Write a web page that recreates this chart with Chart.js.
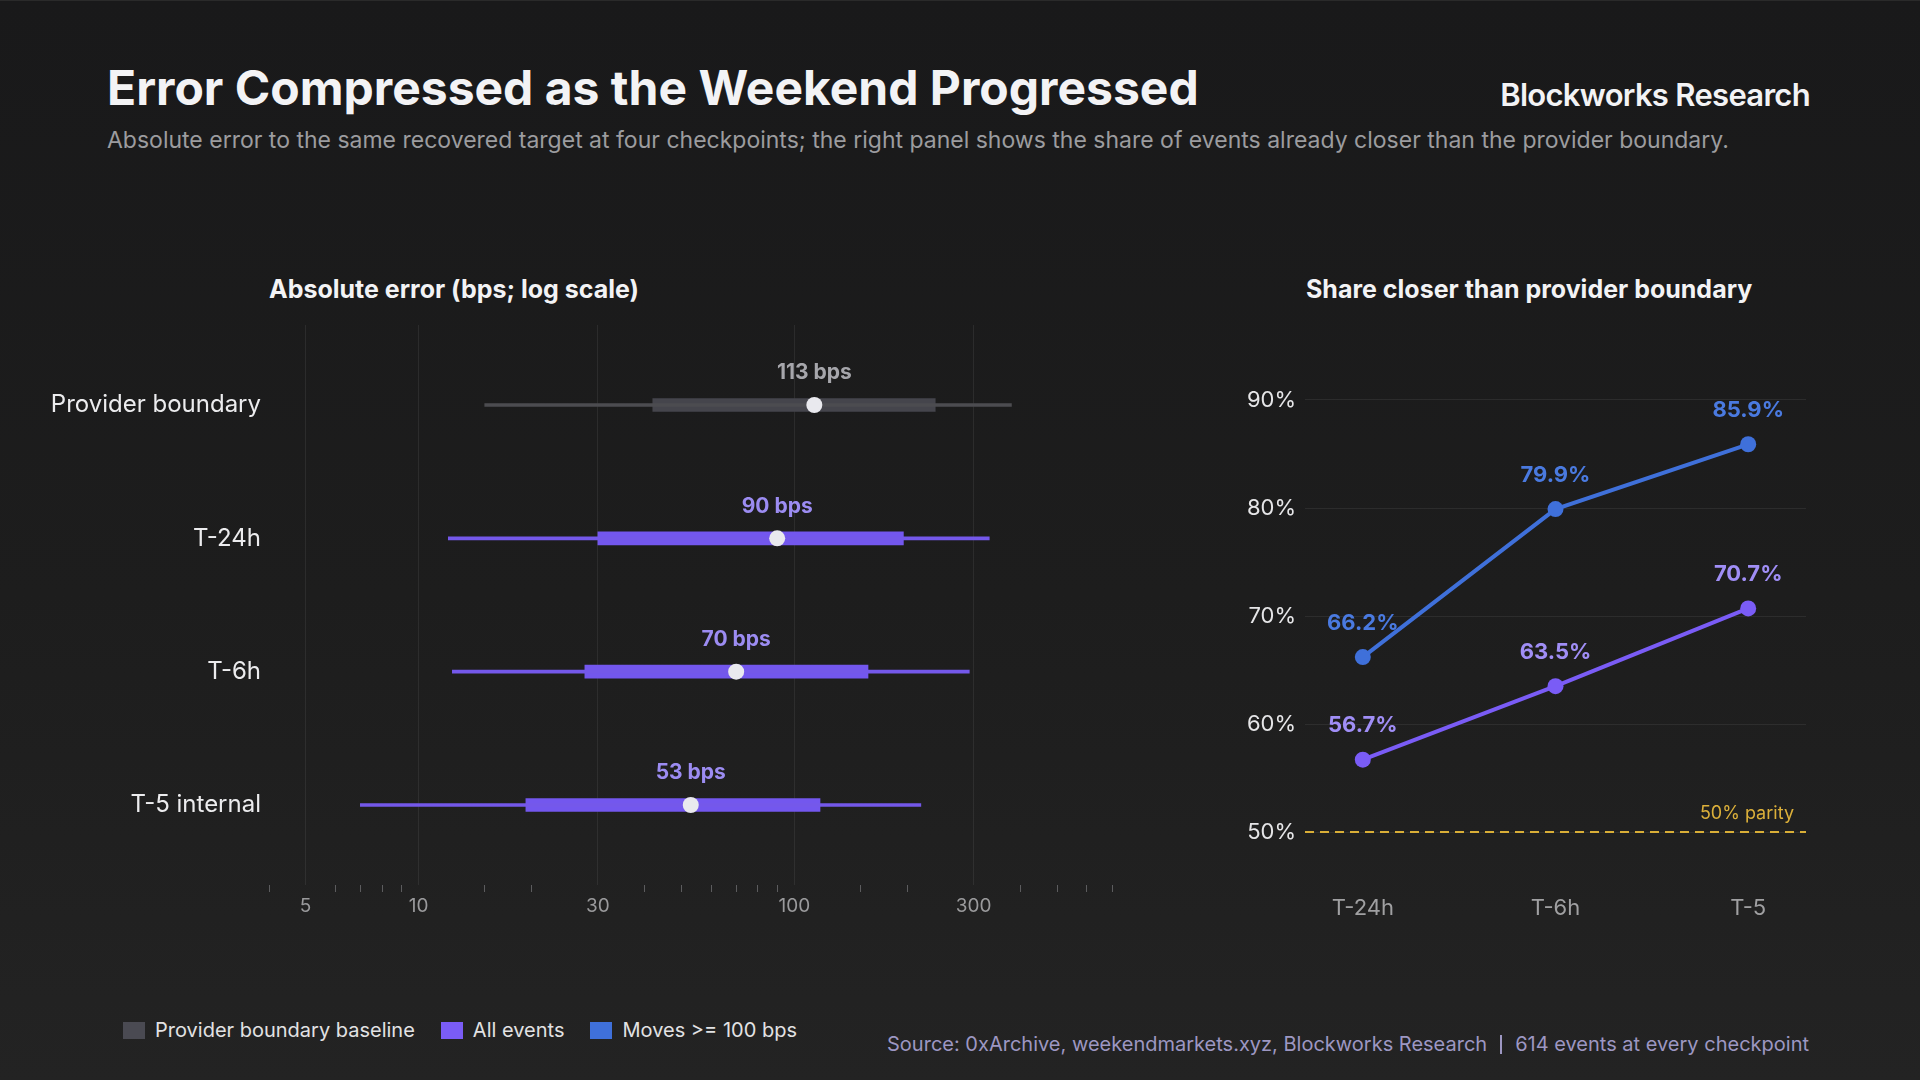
<!DOCTYPE html>
<html>
<head>
<meta charset="utf-8">
<script src="https://cdn.jsdelivr.net/npm/chart.js@4.4.1/dist/chart.umd.min.js"></script>
<style>
  html, body { margin: 0; padding: 0; }
  body {
    width: 1920px; height: 1080px; overflow: hidden; position: relative;
    background: linear-gradient(180deg, #19191a 0%, #1d1d1d 55%, #232323 100%);
    font-family: Inter, "Noto Sans", sans-serif;
    border-top: 1px solid #2a2a2a; box-sizing: border-box;
  }
  .abs { position: absolute; white-space: nowrap; }
  #title { left: 107px; top: 58px; font-size: 48px; line-height: 58px; font-weight: 700; color: #f3f3f5; }
  #brand { right: 110px; top: 76px; font-size: 31px; line-height: 36px; font-weight: 600; color: #f3f3f5; letter-spacing: -0.7px; }
  #subtitle { left: 107px; top: 126px; font-size: 23px; line-height: 27px; color: #9c9c9f; }
  .panelTitle { top: 273px; font-size: 25px; line-height: 30px; font-weight: 700; color: #f3f3f5; }
  #leftTitle { left: 269px; }
  #rightTitle { left: 1306px; }
  #leftBox { left: 0; top: 300px; width: 1130px; height: 660px; }
  #rightBox { left: 1240px; top: 300px; width: 640px; height: 660px; }
  #legend { left: 123px; top: 1017px; height: 24px; display: flex; align-items: center; font-size: 20px; line-height: 24px; color: #e2e2e4; }
  .sw { width: 22px; height: 17px; margin-right: 10px; }
  .item { display: flex; align-items: center; margin-right: 26px; }
  #source { right: 111px; top: 1031px; font-size: 20px; line-height: 24px; color: #9d97c2; display: flex; align-items: center; }
  .sep { display: inline-block; width: 2px; height: 19px; background: #9d97c2; margin: 0 13px; }
</style>
</head>
<body>
<div id="title" class="abs">Error Compressed as the Weekend Progressed</div>
<div id="brand" class="abs">Blockworks Research</div>
<div id="subtitle" class="abs">Absolute error to the same recovered target at four checkpoints; the right panel shows the share of events already closer than the provider boundary.</div>

<div id="leftTitle" class="abs panelTitle">Absolute error (bps; log scale)</div>
<div id="rightTitle" class="abs panelTitle">Share closer than provider boundary</div>

<div id="leftBox" class="abs"><canvas id="errorChart"></canvas></div>
<div id="rightBox" class="abs"><canvas id="shareChart"></canvas></div>

<div id="legend" class="abs">
  <div class="item"><div class="sw" style="background:#4a4a52"></div>Provider boundary baseline</div>
  <div class="item"><div class="sw" style="background:#7a5cf6"></div>All events</div>
  <div class="item"><div class="sw" style="background:#3f70da"></div>Moves &gt;= 100 bps</div>
</div>
<div id="source" class="abs">Source: 0xArchive, weekendmarkets.xyz, Blockworks Research<span class="sep"></span>614 events at every checkpoint</div>

<script>
// left panel: absolute error distribution (bps)
const rowLabels = ['Provider boundary', 'T-24h', 'T-6h', 'T-5 internal'];
const medians = [113, 90, 70, 53];
const q1 = [42, 30, 27.7, 19.3];
const q3 = [237, 195, 157, 117];
const whiskerLow = [15, 12, 12.3, 7];
const whiskerHigh = [378, 330, 292, 217];
const xTickLabels = [5, 10, 30, 100, 300];

// right panel: share closer than provider boundary (%)
const checkpoints = ['T-24h', 'T-6h', 'T-5'];
const movesOver100 = [66.2, 79.9, 85.9];
const allEvents = [56.7, 63.5, 70.7];
const yTickLabels = [50, 60, 70, 80, 90];
const parityLevel = 50;

Chart.defaults.font.family = 'Inter, "Noto Sans", sans-serif';
Chart.defaults.animation = false;
Chart.defaults.plugins.legend.display = false;
Chart.defaults.plugins.tooltip.enabled = false;

const PURPLE = '#7357ee';
const GRID = 'rgba(255,255,255,0.07)';

const bpsLabels = {
  id: 'bpsLabels',
  afterDatasetsDraw(chart) {
    const { ctx, scales: { x, y } } = chart;
    ctx.save();
    ctx.font = '700 21px Inter';
    ctx.textAlign = 'center';
    ctx.textBaseline = 'middle';
    medians.forEach((m, i) => {
      ctx.fillStyle = i === 0 ? '#a6a6ab' : '#9c8cf2';
      ctx.fillText(m + ' bps', x.getPixelForValue(m), y.getPixelForValue(i) - 32);
    });
    ctx.restore();
  }
};

new Chart(document.getElementById('errorChart'), {
  type: 'bar',
  data: {
    datasets: [
      {
        type: 'scatter',
        data: medians.map((m, i) => ({ x: m, y: i })),
        pointRadius: 8,
        pointHoverRadius: 8,
        pointBackgroundColor: '#e9e9ee',
        pointBorderWidth: 0
      },
      {
        data: whiskerLow.map((lo, i) => ({ y: i, x: [lo, whiskerHigh[i]] })),
        backgroundColor: (c) => c.dataIndex === 0 ? '#4c4c50' : '#7458ea',
        barThickness: 3,
        grouped: false
      },
      {
        data: q1.map((lo, i) => ({ y: i, x: [lo, q3[i]] })),
        backgroundColor: (c) => c.dataIndex === 0 ? '#45454c' : PURPLE,
        barThickness: 13,
        grouped: false
      }
    ]
  },
  options: {
    indexAxis: 'y',
    responsive: true,
    maintainAspectRatio: false,
    layout: { padding: { top: 24, right: 18, left: 0, bottom: 0 } },
    scales: {
      x: {
        type: 'logarithmic',
        min: 4,
        max: 700,
        border: { display: false },
        grid: {
          color: (c) => xTickLabels.includes(c.tick && c.tick.value) ? GRID : 'transparent',
          tickColor: (c) => xTickLabels.includes(c.tick && c.tick.value) ? 'transparent' : '#5c5c5e',
          tickLength: 7,
          lineWidth: 1
        },
        ticks: {
          autoSkip: false,
          maxRotation: 0,
          color: '#9a9a9c',
          font: { size: 19 },
          padding: 3,
          callback: (v) => xTickLabels.includes(v) ? String(v) : ''
        },
        afterFit: (s) => { s.height = 76; }
      },
      y: {
        type: 'linear',
        reverse: true,
        offset: false,
        min: -0.6,
        max: 3.6,
        border: { display: false },
        grid: { display: false, drawTicks: false },
        afterBuildTicks: (s) => { s.ticks = rowLabels.map((_, i) => ({ value: i })); },
        ticks: {
          autoSkip: false,
          color: '#ececee',
          font: { size: 24 },
          padding: 8,
          callback: (v) => rowLabels[v] !== undefined ? rowLabels[v] : ''
        },
        afterFit: (s) => { s.width = 269; }
      }
    }
  },
  plugins: [bpsLabels]
});

const shareLabels = {
  id: 'shareLabels',
  afterDatasetsDraw(chart) {
    const { ctx, chartArea, scales: { x, y } } = chart;
    ctx.save();
    ctx.textAlign = 'center';
    ctx.textBaseline = 'middle';
    ctx.font = '700 22px Inter';
    [[movesOver100, '#4a7ae0'], [allEvents, '#a08ef6']].forEach(([vals, col]) => {
      ctx.fillStyle = col;
      vals.forEach((v, i) => {
        ctx.fillText(v.toFixed(1) + '%', x.getPixelForValue(i), y.getPixelForValue(v) - 34);
      });
    });
    ctx.font = '400 18px Inter';
    ctx.textAlign = 'right';
    ctx.fillStyle = '#dcb03a';
    ctx.fillText('50% parity', chartArea.right - 12, y.getPixelForValue(parityLevel) - 18);
    ctx.restore();
  }
};

new Chart(document.getElementById('shareChart'), {
  type: 'line',
  data: {
    datasets: [
      {
        data: movesOver100.map((v, i) => ({ x: i, y: v })),
        borderColor: '#3f70da',
        backgroundColor: '#3f70da',
        borderWidth: 4,
        pointRadius: 8,
        pointBackgroundColor: '#3f70da',
        pointBorderWidth: 0
      },
      {
        data: allEvents.map((v, i) => ({ x: i, y: v })),
        borderColor: '#7a5cf6',
        backgroundColor: '#7a5cf6',
        borderWidth: 4,
        pointRadius: 8,
        pointBackgroundColor: '#7a5cf6',
        pointBorderWidth: 0
      },
      {
        data: [{ x: -0.3, y: parityLevel }, { x: 2.3, y: parityLevel }],
        borderColor: '#d9ae37',
        borderWidth: 2,
        borderDash: [9, 6],
        pointRadius: 0
      }
    ]
  },
  options: {
    responsive: true,
    maintainAspectRatio: false,
    layout: { padding: { top: 45, right: 74, left: 0, bottom: 0 } },
    scales: {
      x: {
        type: 'linear',
        min: -0.3,
        max: 2.3,
        offset: false,
        border: { display: false },
        grid: { display: false, drawTicks: false },
        afterBuildTicks: (s) => { s.ticks = checkpoints.map((_, i) => ({ value: i })); },
        ticks: {
          autoSkip: false,
          maxRotation: 0,
          color: '#a0a0a2',
          font: { size: 22 },
          padding: 9,
          callback: (v) => checkpoints[v] !== undefined ? checkpoints[v] : ''
        },
        afterFit: (s) => { s.height = 75; }
      },
      y: {
        type: 'linear',
        min: 45,
        max: 95,
        border: { display: false },
        grid: { color: GRID, drawTicks: false },
        afterBuildTicks: (s) => { s.ticks = yTickLabels.map((v) => ({ value: v })); },
        ticks: {
          color: '#e6e6e8',
          font: { size: 22 },
          padding: 9,
          callback: (v) => v + '%'
        },
        afterFit: (s) => { s.width = 65; }
      }
    }
  },
  plugins: [shareLabels]
});
</script>
</body>
</html>
